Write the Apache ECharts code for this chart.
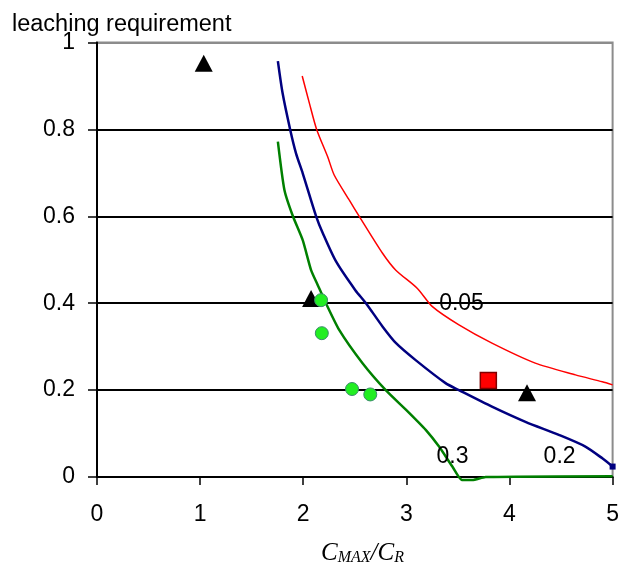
<!DOCTYPE html>
<html><head><meta charset="utf-8">
<script src="https://cdn.jsdelivr.net/npm/echarts@6/dist/echarts.min.js"></script>
<style>html,body{margin:0;padding:0;background:#fff}#c{width:622px;height:566px}</style>
</head><body><div id="c"></div>
<script>
// Curve 0.2 (blue)
var curve02 = [[1.754,0.957],[1.80,0.883],[1.873,0.8],[1.93,0.745],[1.995,0.699],[2.125,0.6],[2.19,0.561],[2.318,0.496],[2.505,0.43],[2.608,0.4],[2.77,0.346],[2.90,0.308],[3.09,0.269],[3.38,0.216],[3.51,0.2],[3.83,0.162],[4.155,0.127],[4.478,0.097],[4.736,0.07],[4.90,0.043],[5.0,0.024]];
// Curve 0.05 (red)
var curve005 = [[1.99,0.923],[2.06,0.86],[2.13,0.8],[2.237,0.737],[2.30,0.695],[2.447,0.637],[2.543,0.6],[2.769,0.515],[2.898,0.476],[3.107,0.434],[3.253,0.392],[3.51,0.35],[3.83,0.308],[4.25,0.262],[4.64,0.235],[4.90,0.219],[5.0,0.212]];
// Curve 0.3 (green)
var curve03 = [[1.754,0.772],[1.818,0.66],[1.90,0.6],[1.995,0.545],[2.076,0.476],[2.14,0.442],[2.22,0.40],[2.35,0.338],[2.575,0.262],[2.80,0.2],[3.0,0.154],[3.19,0.108],[3.317,0.07],[3.446,0.024],[3.54,-0.007],[3.64,-0.007],[3.77,0.0],[5.0,0.002]];
// Points
var triangles = [[1.035,0.952],[2.076,0.411],[4.17,0.194]];
var squares = [[3.795,0.222]];
var circles = [[2.173,0.407],[2.18,0.331],[2.473,0.2025],[2.65,0.19]];
// Curve labels
var curveLabels = [[3.535,0.4,'0.05'],[3.447,0.047,'0.3'],[4.486,0.047,'0.2']];
var xTicks = [0,1,2,3,4,5];
var yTicks = [0,0.2,0.4,0.6,0.8,1];
var yTitle = 'leaching requirement';

var FONT = 'Liberation Sans';
var FS = 23;
var chart = echarts.init(document.getElementById('c'), null, {renderer:'canvas'});
var blueData = curve02.map(function(p,i){
  if (i === curve02.length-1) return {value:p, symbol:'rect', symbolSize:6, itemStyle:{color:'#000080'}};
  return {value:p, symbol:'none'};
});
chart.setOption({
  animation:false,
  grid:{left:97, right:8, top:42.5, bottom:89, show:true, borderColor:'#8c8c8c', borderWidth:2, backgroundColor:'transparent'},
  xAxis:{type:'value', min:xTicks[0], max:xTicks[xTicks.length-1], interval:1,
    axisLine:{show:true, onZero:false, lineStyle:{color:'#000', width:2}},
    axisTick:{show:true, inside:false, length:8, lineStyle:{color:'#000', width:1.5}},
    axisLabel:{margin:26, color:'#000', fontFamily:FONT, fontSize:FS},
    splitLine:{show:false}},
  yAxis:{type:'value', min:yTicks[0], max:yTicks[yTicks.length-1], interval:0.2,
    axisLine:{show:true, onZero:false, lineStyle:{color:'#000', width:2}},
    axisTick:{show:true, inside:false, length:9, lineStyle:{color:'#000', width:1.5}},
    axisLabel:{margin:22, color:'#000', fontFamily:FONT, fontSize:FS, formatter:function(v){return String(Math.round(v*10)/10);}},
    splitLine:{show:true, lineStyle:{color:['#000','#000','#000','#000','#000','#8c8c8c'], width:2}}},
  graphic:[
    {type:'text', left:12, top:13, style:{text:yTitle, font:'23.5px "Liberation Sans"', fill:'#000'}},
    {type:'text', left:321, top:539, style:{
      text:'{c|C}{s|MAX}{c|/C}{s|R}', fill:'#000',
      rich:{
        c:{fontFamily:'Liberation Serif', fontStyle:'italic', fontSize:25, lineHeight:25, verticalAlign:'top'},
        s:{fontFamily:'Liberation Serif', fontStyle:'italic', fontSize:16, lineHeight:16, verticalAlign:'bottom', padding:[11,0,0,0]}
      }}}
  ],
  series:[
    {type:'line', data:curve005, symbol:'none', smooth:0.25, clip:false, lineStyle:{color:'#ff0000', width:1.5}, z:3},
    {type:'line', data:blueData, smooth:0.25, clip:false, lineStyle:{color:'#000080', width:2.5}, z:3},
    {type:'line', data:curve03, symbol:'none', smooth:0.2, clip:false, lineStyle:{color:'#008000', width:2.5}, z:3},
    {type:'scatter', data:triangles, symbol:'triangle', symbolSize:[18,17], itemStyle:{color:'#000', opacity:1}, z:5},
    {type:'scatter', data:squares, symbol:'rect', symbolSize:16, itemStyle:{color:'#ff0000', borderColor:'#800000', borderWidth:1.5, opacity:1}, z:5},
    {type:'scatter', data:circles, symbol:'circle', symbolSize:13, itemStyle:{color:'#22ee22', borderColor:'#3a8a6a', borderWidth:1, opacity:1}, z:6},
    {type:'scatter', data:curveLabels.map(function(d){return {value:[d[0],d[1]], name:d[2]};}), symbolSize:0, z:7,
      itemStyle:{opacity:1},
      label:{show:true, position:'inside', formatter:'{b}', color:'#000', opacity:1, fontFamily:FONT, fontSize:FS}}
  ]
});
</script></body></html>
